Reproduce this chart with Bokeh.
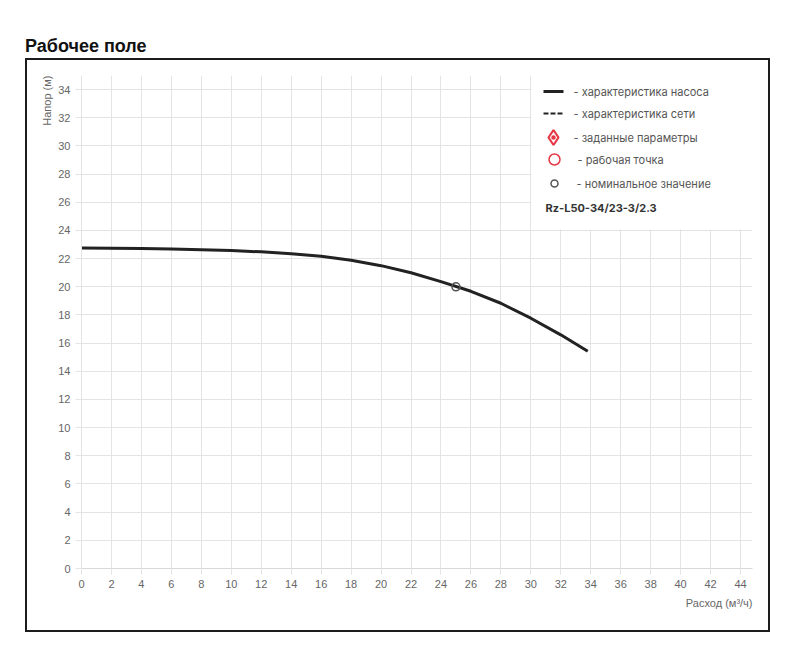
from bokeh.plotting import figure
from bokeh.models import Range1d, Label, Div, FixedTicker, Title
from bokeh.layouts import column
from bokeh.embed import file_html
from bokeh.resources import INLINE

# ---- data ----
flow = [0, 2, 4, 6, 8, 10, 12, 14, 16, 18, 20, 22, 24, 26, 28, 30, 32, 33.8]
head = [22.75, 22.73, 22.71, 22.68, 22.63, 22.57, 22.48, 22.35, 22.16, 21.88,
        21.5, 21.0, 20.37, 19.68, 18.83, 17.77, 16.59, 15.42]
nominal_flow = [25]
nominal_head = [20]
x_ticks = [0, 2, 4, 6, 8, 10, 12, 14, 16, 18, 20, 22, 24, 26, 28, 30, 32, 34, 36, 38, 40, 42, 44]
y_ticks = [0, 2, 4, 6, 8, 10, 12, 14, 16, 18, 20, 22, 24, 26, 28, 30, 32, 34]
title_text = "Рабочее поле"
x_title = "Расход (м³/ч)"
y_title = "Напор (м)"
legend_labels = ["- характеристика насоса", "- характеристика сети", "- заданные параметры",
                 "- рабочая точка", "- номинальное значение"]
model_name = "Rz-L50-34/23-3/2.3"

RED = "#e53946"
TICK_FONT = "Liberation Sans"
LEG_FONT = "Inter"

FW, FH = 671, 493  # frame size in px

p = figure(width=741, height=570, output_backend="svg", toolbar_location=None,
           x_range=Range1d(0, 44.8), y_range=Range1d(0, 35),
           min_border_left=54, min_border_right=16, min_border_top=15, min_border_bottom=62)
p.margin = (0, 0, 0, 27)
p.outline_line_color = None
p.background_fill_color = "white"
p.border_fill_color = "white"

p.extra_x_ranges = {"px": Range1d(0, FW)}
p.extra_y_ranges = {"px": Range1d(0, FH)}

for ax in (p.xaxis[0], p.yaxis[0]):
    ax.major_label_text_font = TICK_FONT
    ax.major_label_text_font_size = "11px"
    ax.major_label_text_color = "#666666"
    ax.major_tick_line_color = "#e4e4e4"
    ax.major_tick_in = 0
    ax.major_tick_out = 6
    ax.minor_tick_line_color = None
    ax.major_label_standoff = 5
p.xaxis[0].ticker = FixedTicker(ticks=x_ticks)
p.yaxis[0].ticker = FixedTicker(ticks=y_ticks)
p.xaxis[0].axis_line_color = "#d8d8d8"
p.yaxis[0].axis_line_color = "#e4e4e4"
p.xgrid[0].ticker = FixedTicker(ticks=x_ticks)
p.ygrid[0].ticker = FixedTicker(ticks=y_ticks)
p.xgrid.grid_line_color = "#e4e4e4"
p.ygrid.grid_line_color = "#e4e4e4"

# axis titles
p.add_layout(Title(text=x_title, align="right", text_font=TICK_FONT, text_font_size="11px",
                   text_font_style="normal", text_color="#666666", standoff=8), "below")
p.add_layout(Title(text=y_title, align="right", text_font=TICK_FONT, text_font_size="11px",
                   text_font_style="normal", text_color="#666666", standoff=5), "left")

# pump curve
p.line(flow, head, line_color="#222222", line_width=3)
# nominal point
p.scatter(nominal_flow, nominal_head, marker="circle", size=8, fill_color=None,
          line_color="#555555", line_width=1.5)

# legend background (pixel coordinates inside frame)
p.quad(left=[450], right=[FW], bottom=[339], top=[FH], fill_color="white", line_color=None,
       x_range_name="px", y_range_name="px")
p.line([462, 482], [477, 477], line_color="#222222", line_width=3, x_range_name="px", y_range_name="px")
p.line([462, 482], [455, 455], line_color="#222222", line_width=2, line_dash="5 2",
       x_range_name="px", y_range_name="px")
p.scatter([472], [431], marker="diamond", size=15, fill_color=None, line_color=RED,
          line_width=2.2, x_range_name="px", y_range_name="px")
p.scatter([472], [431], marker="circle", size=4.5, fill_color=RED, line_color=None,
          x_range_name="px", y_range_name="px")
p.scatter([473], [409], marker="circle", size=11, fill_color=None, line_color=RED,
          line_width=1.5, x_range_name="px", y_range_name="px")
p.scatter([473], [385], marker="circle", size=7, fill_color=None, line_color="#555555",
          line_width=1.5, x_range_name="px", y_range_name="px")

leg_pos = [(492, 477), (492, 455), (492, 431), (496, 409), (495, 385)]
for (lx, ly), txt in zip(leg_pos, legend_labels):
    p.add_layout(Label(x=lx, y=ly, x_units="screen", y_units="screen", text=txt,
                       text_font=LEG_FONT, text_font_size="11px", text_color="#555555",
                       text_baseline="middle", text_align="left"))
p.add_layout(Label(x=464, y=361, x_units="screen", y_units="screen", text=model_name,
                   text_font=LEG_FONT, text_font_size="11px", text_font_style="bold",
                   text_color="#333333", text_baseline="middle", text_align="left"))

box_html = ('<div style="position:fixed; left:25px; top:58px; width:745px; height:574px; '
            'box-sizing:border-box; border:2px solid #1c1c1c; pointer-events:none; z-index:1000;"></div>')
title = Div(text=title_text + box_html, width=745, height=60, margin=(0, 0, 0, 25),
            styles={"font-size": "18px", "font-weight": "bold", "font-family": "Liberation Sans",
                    "color": "#111111", "padding-top": "36px", "box-sizing": "border-box",
                    "line-height": "21px", "z-index": "1000", "overflow": "visible"})

layout = column(title, p, spacing=0)
open("out.html", "w").write(file_html(layout, INLINE))
